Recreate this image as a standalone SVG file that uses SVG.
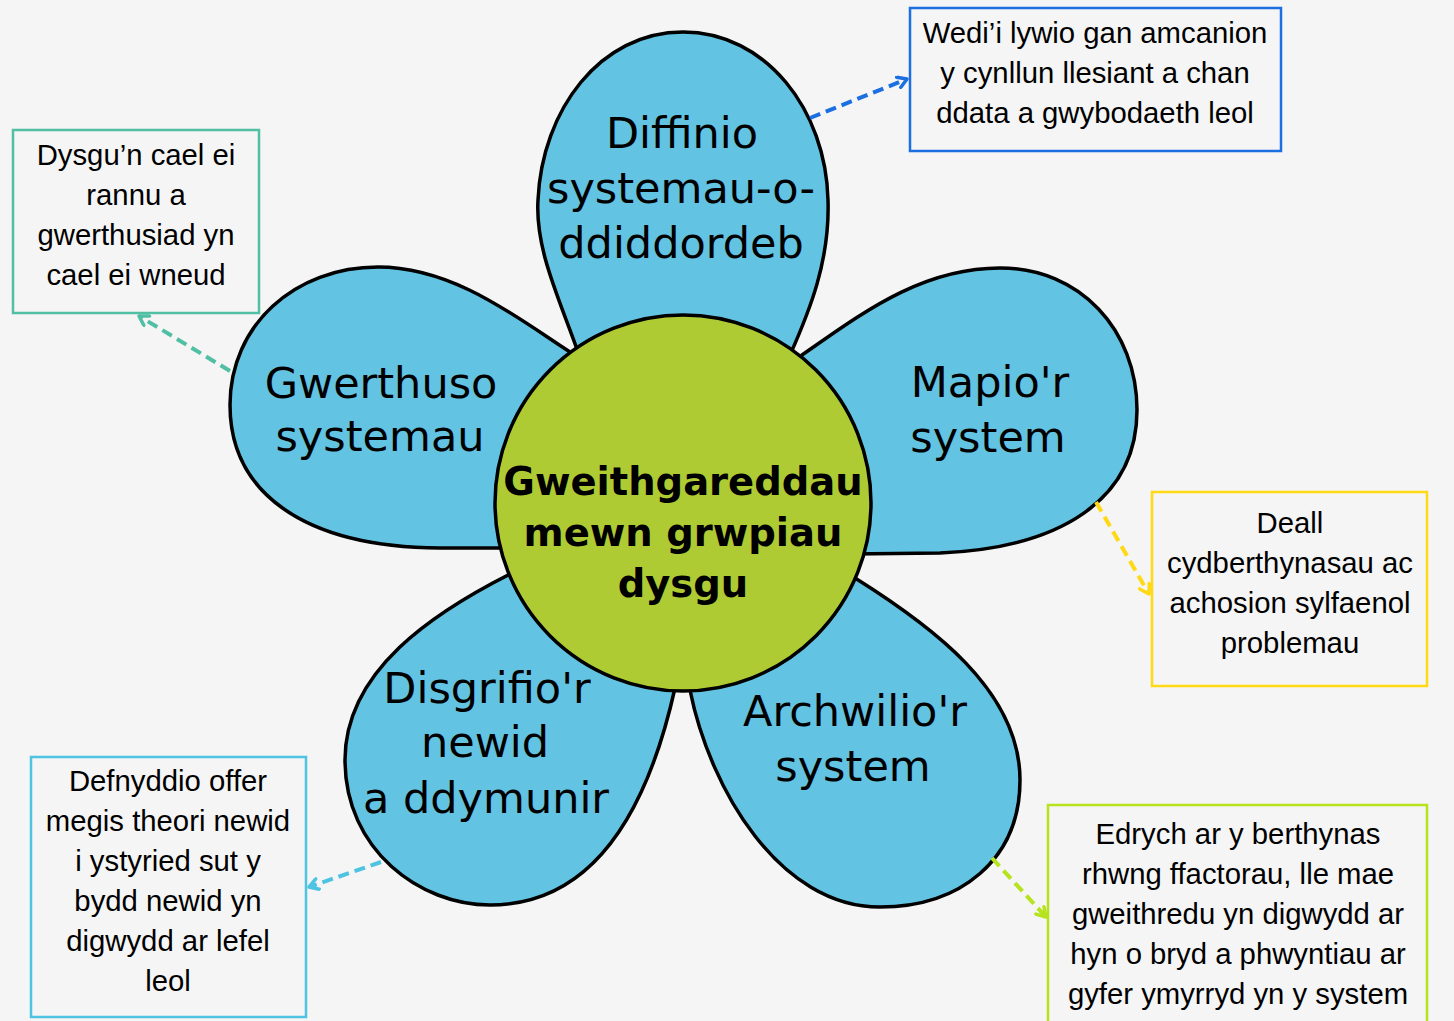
<svg xmlns="http://www.w3.org/2000/svg" width="1454" height="1021" viewBox="0 0 1454 1021">
<style>
.petal{fill:#63C3E2;stroke:#000;stroke-width:3.5;stroke-linejoin:round}
.ptxt{font-family:"DejaVu Sans",sans-serif;font-size:43px;fill:#000;text-anchor:middle}
.ctxt{font-family:"DejaVu Sans",sans-serif;font-weight:bold;font-size:38.5px;fill:#000;text-anchor:middle}
.btxt{font-family:"Liberation Sans",Arial,sans-serif;font-size:29.3px;fill:#000;text-anchor:middle}
.box{fill:#F5F5F5;stroke-width:2.5}
.conn{fill:none;stroke-width:4;stroke-dasharray:11 6}
</style>
<defs>
<marker id="mBlue" viewBox="0 0 14 14" refX="11" refY="7" markerWidth="14" markerHeight="14" markerUnits="userSpaceOnUse" orient="auto"><path d="M2,1.5 L11,7 L2,12.5" fill="none" stroke="#1C6FE0" stroke-width="3.5" stroke-linecap="round" stroke-linejoin="round"/></marker>
<marker id="mTeal" viewBox="0 0 14 14" refX="11" refY="7" markerWidth="14" markerHeight="14" markerUnits="userSpaceOnUse" orient="auto"><path d="M2,1.5 L11,7 L2,12.5" fill="none" stroke="#50BFA4" stroke-width="3.5" stroke-linecap="round" stroke-linejoin="round"/></marker>
<marker id="mYellow" viewBox="0 0 14 14" refX="11" refY="7" markerWidth="14" markerHeight="14" markerUnits="userSpaceOnUse" orient="auto"><path d="M2,1.5 L11,7 L2,12.5" fill="none" stroke="#FFD914" stroke-width="3.5" stroke-linecap="round" stroke-linejoin="round"/></marker>
<marker id="mCyan" viewBox="0 0 14 14" refX="11" refY="7" markerWidth="14" markerHeight="14" markerUnits="userSpaceOnUse" orient="auto"><path d="M2,1.5 L11,7 L2,12.5" fill="none" stroke="#4EC3E2" stroke-width="3.5" stroke-linecap="round" stroke-linejoin="round"/></marker>
<marker id="mLime" viewBox="0 0 14 14" refX="11" refY="7" markerWidth="14" markerHeight="14" markerUnits="userSpaceOnUse" orient="auto"><path d="M2,1.5 L11,7 L2,12.5" fill="none" stroke="#B6E31E" stroke-width="3.5" stroke-linecap="round" stroke-linejoin="round"/></marker>
</defs>
<rect width="1454" height="1021" fill="#F5F5F5"/>

<g id="petal-diffinio">
<path class="petal" d="M684 450 L579 355 C560 300,535 250,538 200 C542 110,600 32,683 32 C766 32,826 110,828 200 C830 260,810 310,790 355 Z"/>
<text class="ptxt" x="682" y="148">Diffinio</text>
<text class="ptxt" x="681" y="203">systemau-o-</text>
<text class="ptxt" x="681" y="258">ddiddordeb</text>
</g>
<g id="petal-gwerthuso">
<path class="petal" d="M600 450 L570 352 C520 320,455 267,378 267 C295 267,230 325,230 405 C230 490,300 547,440 548 L530 548 Z"/>
<text class="ptxt" x="381" y="398">Gwerthuso</text>
<text class="ptxt" x="380" y="451">systemau</text>
</g>
<g id="petal-mapio">
<path class="petal" d="M760 450 L802 355 C860 315,920 268,1000 268 C1080 268,1137 330,1137 410 C1137 500,1060 548,940 553 L850 554 Z"/>
<text class="ptxt" x="990" y="397">Mapio'r</text>
<text class="ptxt" x="988" y="452">system</text>
</g>
<g id="petal-archwilio">
<path class="petal" d="M750 560 L855 578 C930 625,1020 690,1020 780 C1020 860,960 907,880 907 C780 907,710 790,690 690 Z"/>
<text class="ptxt" x="855" y="726">Archwilio'r</text>
<text class="ptxt" x="853" y="781">system</text>
</g>
<g id="petal-disgrifio">
<path class="petal" d="M620 600 L510 574 C435 612,345 670,345 760 C345 850,420 905,490 905 C600 905,650 800,675 688 Z"/>
<text class="ptxt" x="487" y="703">Disgrifio'r</text>
<text class="ptxt" x="485" y="757">newid</text>
<text class="ptxt" x="486" y="813">a ddymunir</text>
</g>

<g id="centre">
<circle cx="683" cy="503" r="188" fill="#AFCB33" stroke="#000" stroke-width="3.5"/>
<text class="ctxt" x="683" y="495">Gweithgareddau</text>
<text class="ctxt" x="683" y="546">mewn grwpiau</text>
<text class="ctxt" x="683" y="597">dysgu</text>
</g>

<g id="connectors">
<path class="conn" stroke="#1C6FE0" d="M810 118 L907 79" marker-end="url(#mBlue)"/>
<path class="conn" stroke="#50BFA4" d="M230 371 L139 316" marker-end="url(#mTeal)"/>
<path class="conn" stroke="#FFD914" d="M1096 502 L1149 594" marker-end="url(#mYellow)"/>
<path class="conn" stroke="#4EC3E2" d="M381 862 L309 887" marker-end="url(#mCyan)"/>
<path class="conn" stroke="#B6E31E" d="M992 858 L1046 917" marker-end="url(#mLime)"/>
</g>

<g id="box-wedi">
<rect class="box" x="910" y="8" width="371" height="143" stroke="#1C6FE0"/>
<text class="btxt" x="1095" y="43">Wedi’i lywio gan amcanion</text>
<text class="btxt" x="1095" y="83">y cynllun llesiant a chan</text>
<text class="btxt" x="1095" y="123">ddata a gwybodaeth leol</text>
</g>
<g id="box-dysgu">
<rect class="box" x="13" y="130" width="246" height="183" stroke="#50BFA4"/>
<text class="btxt" x="136" y="165">Dysgu’n cael ei</text>
<text class="btxt" x="136" y="205">rannu a</text>
<text class="btxt" x="136" y="245">gwerthusiad yn</text>
<text class="btxt" x="136" y="285">cael ei wneud</text>
</g>
<g id="box-deall">
<rect class="box" x="1152" y="492" width="275" height="194" stroke="#FFD914"/>
<text class="btxt" x="1290" y="533">Deall</text>
<text class="btxt" x="1290" y="573">cydberthynasau ac</text>
<text class="btxt" x="1290" y="613">achosion sylfaenol</text>
<text class="btxt" x="1290" y="653">problemau</text>
</g>
<g id="box-defnyddio">
<rect class="box" x="31" y="757" width="275" height="260" stroke="#4EC3E2"/>
<text class="btxt" x="168" y="791">Defnyddio offer</text>
<text class="btxt" x="168" y="831">megis theori newid</text>
<text class="btxt" x="168" y="871">i ystyried sut y</text>
<text class="btxt" x="168" y="911">bydd newid yn</text>
<text class="btxt" x="168" y="951">digwydd ar lefel</text>
<text class="btxt" x="168" y="991">leol</text>
</g>
<g id="box-edrych">
<rect class="box" x="1048" y="805" width="379" height="240" stroke="#B6E31E"/>
<text class="btxt" x="1238" y="844">Edrych ar y berthynas</text>
<text class="btxt" x="1238" y="884">rhwng ffactorau, lle mae</text>
<text class="btxt" x="1238" y="924">gweithredu yn digwydd ar</text>
<text class="btxt" x="1238" y="964">hyn o bryd a phwyntiau ar</text>
<text class="btxt" x="1238" y="1004">gyfer ymyrryd yn y system</text>
</g>
</svg>
